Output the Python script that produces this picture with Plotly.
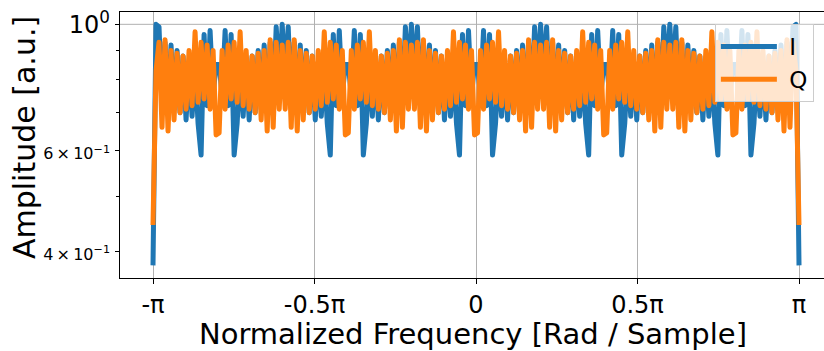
import numpy as np
import plotly.graph_objects as go

PI = np.pi

# Frequency grid (normalized, rad/sample)
freq = np.linspace(-PI, PI, 216)

# Amplitude of I (one row per half of each 0.4*pi span)
amp_I = [
    0.378, 1.00, 0.99, 0.72, 0.93, 0.70, 0.92, 0.71, 0.90, 0.70, 0.88, 0.68, 0.86, 0.69, 0.85, 0.67, 0.59, 0.96, 0.72, 0.975, 0.75, 0.85,
    0.85, 0.75, 0.975, 0.72, 0.96, 0.59, 0.67, 0.85, 0.69, 0.86, 0.68, 0.88, 0.70, 0.90, 0.71, 0.92, 0.70, 0.93, 0.72, 0.99, 0.80,
    1.00, 0.80, 0.99, 0.72, 0.93, 0.70, 0.92, 0.71, 0.90, 0.70, 0.88, 0.68, 0.86, 0.69, 0.85, 0.67, 0.59, 0.96, 0.72, 0.975, 0.75, 0.85,
    0.85, 0.75, 0.975, 0.72, 0.96, 0.59, 0.67, 0.85, 0.69, 0.86, 0.68, 0.88, 0.70, 0.90, 0.71, 0.92, 0.70, 0.93, 0.72, 0.99, 0.80,
    1.00, 0.80, 0.99, 0.72, 0.93, 0.70, 0.92, 0.71, 0.90, 0.70, 0.88, 0.68, 0.86, 0.69, 0.85, 0.67, 0.59, 0.96, 0.72, 0.975, 0.75, 0.85,
    0.85, 0.75, 0.975, 0.72, 0.96, 0.59, 0.67, 0.85, 0.69, 0.86, 0.68, 0.88, 0.70, 0.90, 0.71, 0.92, 0.70, 0.93, 0.72, 0.99, 0.80,
    1.00, 0.80, 0.99, 0.72, 0.93, 0.70, 0.92, 0.71, 0.90, 0.70, 0.88, 0.68, 0.86, 0.69, 0.85, 0.67, 0.59, 0.96, 0.72, 0.975, 0.75, 0.85,
    0.85, 0.75, 0.975, 0.72, 0.96, 0.59, 0.67, 0.85, 0.69, 0.86, 0.68, 0.88, 0.70, 0.90, 0.71, 0.92, 0.70, 0.93, 0.72, 0.99, 0.80,
    1.00, 0.80, 0.99, 0.72, 0.93, 0.70, 0.92, 0.71, 0.90, 0.70, 0.88, 0.68, 0.86, 0.69, 0.85, 0.67, 0.59, 0.96, 0.72, 0.975, 0.75, 0.85,
    0.85, 0.75, 0.975, 0.72, 0.96, 0.59, 0.67, 0.85, 0.69, 0.86, 0.68, 0.88, 0.70, 0.90, 0.71, 0.92, 0.70, 0.93, 0.72, 0.99, 1.00,
    0.378,
]

# Amplitude of Q
amp_Q = [
    0.445, 0.83, 0.93, 0.66, 0.94, 0.65, 0.90, 0.68, 0.89, 0.70, 0.88, 0.71, 0.90, 0.72, 0.97, 0.73, 0.93, 0.74, 0.92, 0.71, 0.90, 0.64,
    0.645, 0.90, 0.71, 0.92, 0.74, 0.93, 0.73, 0.97, 0.72, 0.90, 0.71, 0.88, 0.70, 0.89, 0.68, 0.90, 0.65, 0.94, 0.66, 0.93, 0.71,
    0.92, 0.71, 0.93, 0.66, 0.94, 0.65, 0.90, 0.68, 0.89, 0.70, 0.88, 0.71, 0.90, 0.72, 0.97, 0.73, 0.93, 0.74, 0.92, 0.71, 0.90, 0.64,
    0.645, 0.90, 0.71, 0.92, 0.74, 0.93, 0.73, 0.97, 0.72, 0.90, 0.71, 0.88, 0.70, 0.89, 0.68, 0.90, 0.65, 0.94, 0.66, 0.93, 0.71,
    0.92, 0.71, 0.93, 0.66, 0.94, 0.65, 0.90, 0.68, 0.89, 0.70, 0.88, 0.71, 0.90, 0.72, 0.97, 0.73, 0.93, 0.74, 0.92, 0.71, 0.90, 0.64,
    0.645, 0.90, 0.71, 0.92, 0.74, 0.93, 0.73, 0.97, 0.72, 0.90, 0.71, 0.88, 0.70, 0.89, 0.68, 0.90, 0.65, 0.94, 0.66, 0.93, 0.71,
    0.92, 0.71, 0.93, 0.66, 0.94, 0.65, 0.90, 0.68, 0.89, 0.70, 0.88, 0.71, 0.90, 0.72, 0.97, 0.73, 0.93, 0.74, 0.92, 0.71, 0.90, 0.64,
    0.645, 0.90, 0.71, 0.92, 0.74, 0.93, 0.73, 0.97, 0.72, 0.90, 0.71, 0.88, 0.70, 0.89, 0.68, 0.90, 0.65, 0.94, 0.66, 0.93, 0.71,
    0.92, 0.71, 0.93, 0.66, 0.94, 0.65, 0.90, 0.68, 0.89, 0.70, 0.88, 0.71, 0.90, 0.72, 0.97, 0.73, 0.93, 0.74, 0.92, 0.71, 0.90, 0.64,
    0.645, 0.90, 0.71, 0.92, 0.74, 0.93, 0.73, 0.97, 0.72, 0.90, 0.71, 0.88, 0.70, 0.89, 0.68, 0.90, 0.65, 0.94, 0.66, 0.93, 0.83,
    0.445,
]

x_tickvals = [-PI, -PI / 2, 0, PI / 2, PI]
x_ticktext = ["-π", "-0.5π", "0", "0.5π", "π"]
y_tickvals = [0.4, 0.6, 1.0]
y_ticktext = [
    '<span style="font-size:16px">4\u2009×\u200910<sup>−1</sup></span>',
    '<span style="font-size:16px">6\u2009×\u200910<sup>−1</sup></span>',
    '10<sup>0</sup>',
]
y_minor_vals = [0.5, 0.7, 0.8, 0.9]

FONT = "DejaVu Sans"

fig = go.Figure()
fig.add_trace(go.Scatter(x=freq, y=amp_I, mode="lines", name="\u00a0I",
                         line=dict(color="#1f77b4", width=5)))
fig.add_trace(go.Scatter(x=freq, y=amp_Q, mode="lines", name="\u00a0Q",
                         line=dict(color="#ff7f0e", width=5)))

fig.update_layout(
    width=824, height=351,
    margin=dict(l=120, r=0, t=12, b=73),
    paper_bgcolor="white", plot_bgcolor="white",
    font=dict(family=FONT, color="black"),
    showlegend=True,
    legend=dict(x=0.845, y=0.955, xanchor="left", yanchor="top",
                bgcolor="rgba(255,255,255,0.8)", bordercolor="#cccccc", borderwidth=1,
                font=dict(size=23, family=FONT), itemwidth=56),
    xaxis=dict(range=[-3.4626, 3.3847], tickvals=x_tickvals, ticktext=x_ticktext,
               ticks="outside", ticklen=5, tickwidth=1.2, tickcolor="black",
               showline=True, linecolor="black", linewidth=1.3, mirror=True,
               showgrid=True, gridcolor="#b0b0b0", gridwidth=1, zeroline=False,
               tickfont=dict(size=24, family=FONT)),
    yaxis=dict(type="log", range=[-0.4446, 0.0216], tickvals=y_tickvals, ticktext=y_ticktext,
               ticks="outside", ticklen=4, tickwidth=1.2, tickcolor="black",
               showline=True, linecolor="black", linewidth=1.3, mirror=False,
               showgrid=False, zeroline=False,
               tickfont=dict(size=24, family=FONT),
               minor=dict(tickvals=y_minor_vals, ticks="outside", ticklen=3,
                          tickwidth=1, tickcolor="black", showgrid=False)),
    shapes=[dict(type="line", xref="paper", yref="y", x0=0, x1=1, y0=1.0, y1=1.0,
                 line=dict(color="#b0b0b0", width=1), layer="below")],
    annotations=[
        dict(text="Normalized Frequency [Rad / Sample]", xref="x", yref="paper",
             x=0, y=0, xanchor="center", yanchor="middle", yshift=-56, xshift=-3,
             showarrow=False, font=dict(size=29, family=FONT)),
        dict(text="Amplitude [a.u.]", xref="paper", yref="paper",
             x=0, y=0.5, xanchor="center", yanchor="middle", xshift=-96, yshift=7,
             textangle=-90, showarrow=False, font=dict(size=30, family=FONT)),
    ],
)

post = """
document.querySelectorAll('path.js-line').forEach(function(p){
  p.style.strokeLinejoin = 'round';
});
"""
fig.write_html("out.html", post_script=post)
